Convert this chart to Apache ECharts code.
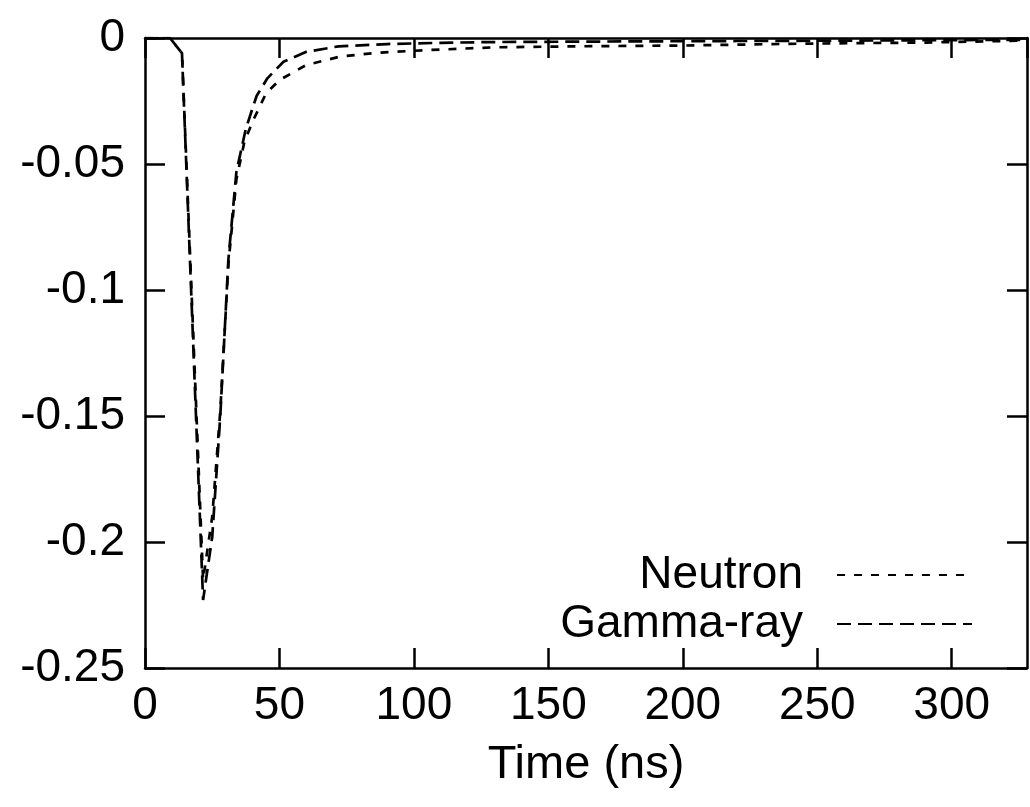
<!DOCTYPE html>
<html>
<head>
<meta charset="utf-8">
<script src="https://cdn.jsdelivr.net/npm/echarts@6/dist/echarts.min.js"></script>
<style>
    html, body { margin: 0; padding: 0; background: #fff; }
    #main { width: 1030px; height: 807px; }
</style>
</head>
<body>
<div id="main"></div>
<script>
// 数据
var neutron = [
    [0, 0], [9.3, 0], [13.75, -0.006], [21.6, -0.215], [25, -0.19], [28, -0.148],
    [31, -0.09], [34, -0.056], [37, -0.041], [40.3, -0.0325], [45, -0.022],
    [50, -0.0167], [60, -0.0107], [72.5, -0.0074], [87, -0.0058], [105, -0.0048],
    [130, -0.0037], [160, -0.0033], [200, -0.003], [240, -0.0023], [290, -0.0018],
    [328, -0.001]
];
var gamma = [
    [0, 0], [9.3, 0], [13.75, -0.006], [21.6, -0.223], [25, -0.198], [28, -0.15],
    [31, -0.088], [34, -0.053], [37.5, -0.036], [41.5, -0.023], [45.5, -0.016],
    [51.5, -0.0094], [60, -0.0055], [72, -0.0033], [90, -0.0024], [110, -0.0019],
    [130, -0.0016], [170, -0.0014], [220, -0.0012], [270, -0.001], [328, -0.0007]
];
var xRange = [0, 328];
var yRange = [-0.25, 0];
var seriesNames = ['Neutron', 'Gamma-ray'];

(function () {
    var chartDom = document.getElementById('main');
    var myChart = echarts.init(chartDom);
    var option;

    var font = 'Liberation Sans, Arial, sans-serif';
    function axisLine() {
        return { show: true, onZero: false, lineStyle: { color: '#000', width: 2.5 } };
    }
    function axisTick() {
        return { show: true, inside: true, length: 20, lineStyle: { color: '#000', width: 2.5 } };
    }

    option = {
        backgroundColor: '#fff',
        animation: false,
        grid: {
            left: 145,
            right: 3,
            top: 38,
            bottom: 139
        },
        legend: {
            data: seriesNames,
            orient: 'vertical',
            align: 'right',
            right: 52,
            top: 547,
            itemWidth: 135,
            itemHeight: 14,
            itemGap: 3,
            itemStyle: { opacity: 0 },
            lineStyle: { width: 2 },
            textStyle: {
                color: '#000',
                fontSize: 46,
                fontFamily: font,
                padding: [0, 29, 0, 0]
            }
        },
        xAxis: [
            {
                type: 'value',
                min: xRange[0],
                max: xRange[1],
                interval: 50,
                name: 'Time (ns)',
                nameLocation: 'middle',
                nameGap: 74,
                nameTextStyle: { color: '#000', fontSize: 47, fontFamily: font },
                axisLine: axisLine(),
                axisTick: axisTick(),
                splitLine: { show: false },
                axisLabel: {
                    color: '#000',
                    fontSize: 46,
                    fontFamily: font,
                    margin: 15,
                    showMaxLabel: false
                }
            },
            {
                type: 'value',
                position: 'top',
                min: xRange[0],
                max: xRange[1],
                interval: 50,
                axisLine: axisLine(),
                axisTick: axisTick(),
                splitLine: { show: false },
                axisLabel: { show: false }
            }
        ],
        yAxis: [
            {
                type: 'value',
                min: yRange[0],
                max: yRange[1],
                interval: 0.05,
                axisLine: axisLine(),
                axisTick: axisTick(),
                splitLine: { show: false },
                axisLabel: {
                    color: '#000',
                    fontSize: 46,
                    fontFamily: font,
                    margin: 20,
                    formatter: function (v) {
                        return String(Math.round(v * 100) / 100);
                    }
                }
            },
            {
                type: 'value',
                position: 'right',
                min: yRange[0],
                max: yRange[1],
                interval: 0.05,
                axisLine: axisLine(),
                axisTick: axisTick(),
                splitLine: { show: false },
                axisLabel: { show: false }
            }
        ],
        series: [
            {
                name: seriesNames[0],
                type: 'line',
                data: neutron,
                symbol: 'none',
                itemStyle: { color: '#000' },
                lineStyle: { color: '#000', width: 2.7, type: [8, 9] }
            },
            {
                name: seriesNames[1],
                type: 'line',
                data: gamma,
                symbol: 'none',
                itemStyle: { color: '#000' },
                lineStyle: { color: '#000', width: 2.7, type: [14, 7] }
            }
        ]
    };

    option && myChart.setOption(option);
})();
</script>
</body>
</html>
